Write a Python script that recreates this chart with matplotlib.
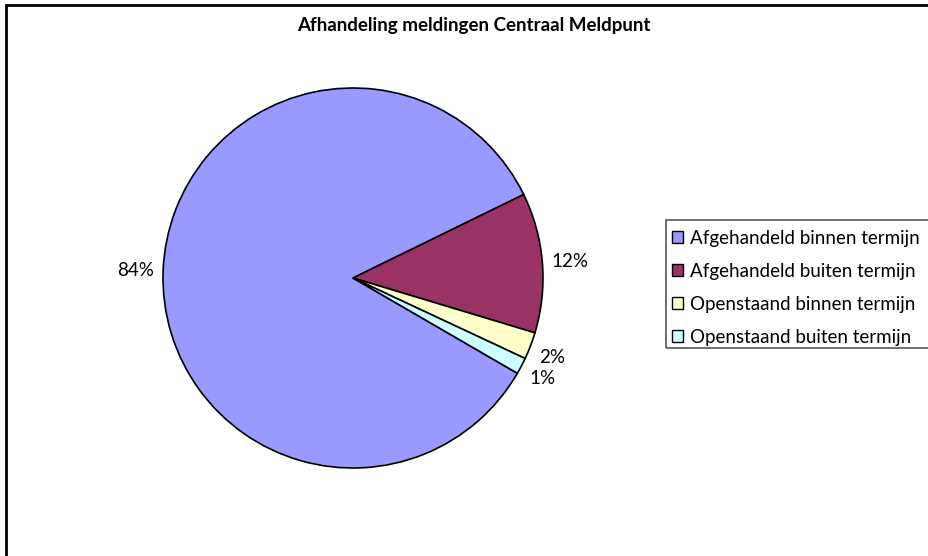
import numpy as np
import matplotlib
matplotlib.use("Agg")
import matplotlib.pyplot as plt
from matplotlib.patches import Rectangle, Patch

plt.rcParams['font.family'] = ['Lato', 'DejaVu Sans']

# status of the reports
categories = ['Afgehandeld binnen termijn', 'Afgehandeld buiten termijn',
              'Openstaand binnen termijn', 'Openstaand buiten termijn']
shares = [84.4, 11.9, 2.3, 1.4]
colors = ['#9999FF', '#993366', '#FFFFCC', '#CCFFFF']
title = 'Afhandeling meldingen Centraal Meldpunt'

W, H = 929, 556
fig = plt.figure(figsize=(W / 100, H / 100), dpi=100)

# outer chart frame (runs off the right and bottom edge)
fig.patches.append(Rectangle((6 / W, -0.1), 1.2, 1 - 4.5 / H + 0.1, transform=fig.transFigure,
                             fill=False, edgecolor='black', linewidth=2))

# pie centre at (353, 278) px, radius 190 px
cx, cy, r = 353, 278, 190
ax = fig.add_axes([(cx - r) / W, (H - cy - r) / H, 2 * r / W, 2 * r / H])
wedges, _ = ax.pie(shares, colors=colors, startangle=-30.1, counterclock=False,
                   radius=1, wedgeprops=dict(edgecolor='black', linewidth=1.2))
ax.set_xlim(-1, 1)
ax.set_ylim(-1, 1)
ax.set_aspect('equal')
ax.axis('off')

# percentage labels just outside each slice, nearest corner towards the pie
for w, v in zip(wedges, shares):
    mid = np.deg2rad((w.theta1 + w.theta2) / 2)
    x, y = 1.05 * np.cos(mid), 1.05 * np.sin(mid)
    s = np.sin(mid)
    va = 'top' if s < -0.3 else ('bottom' if s > 0.3 else 'center')
    ax.text(x, y, f'{v:.0f}%', ha='left' if x > 0 else 'right', va=va,
            fontsize=13.5, clip_on=False)

fig.text(474 / W, 1 - 25 / H, title, ha='center', va='center', fontsize=13.5, fontweight='bold')

# legend with its own frame
fig.patches.append(Rectangle((666 / W, 1 - 348 / H), 0.5, 128 / H, transform=fig.transFigure,
                             fill=False, edgecolor='#555555', linewidth=1.2))
handles = [Patch(facecolor=c, edgecolor='black', linewidth=1) for c in colors]
fig.legend(handles, categories, loc='upper left', bbox_to_anchor=(668 / W, 1 - 226 / H),
           frameon=False, fontsize=13.5, handlelength=0.6, handleheight=0.6,
           handletextpad=0.35, labelspacing=0.85, borderaxespad=0, borderpad=0.2)

fig.savefig('out.png', dpi=100, facecolor='white')
